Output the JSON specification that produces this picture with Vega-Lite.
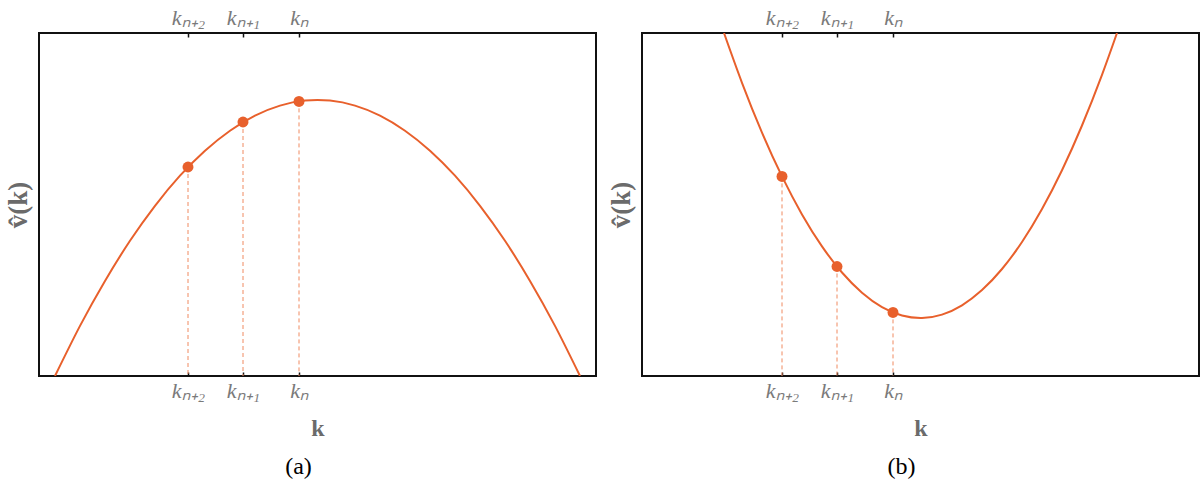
{
  "$schema": "https://vega.github.io/schema/vega-lite/v6.json",
  "padding": {"left": 3, "top": 5, "right": 2, "bottom": 10},
  "background": "white",
  "bounds": "flush",
  "spacing": 46,
  "datasets": {
    "curveA": [
      {"k": 16, "v": 0}, {"k": 41, "v": 50.1}, {"k": 66, "v": 95.1}, {"k": 91, "v": 135.2},
      {"k": 116, "v": 170.2}, {"k": 141, "v": 200.3}, {"k": 166, "v": 225.3}, {"k": 191, "v": 245.3},
      {"k": 216, "v": 260.4}, {"k": 241, "v": 270.4}, {"k": 266, "v": 275.4}, {"k": 291, "v": 275.4},
      {"k": 316, "v": 270.4}, {"k": 341, "v": 260.4}, {"k": 366, "v": 245.3}, {"k": 391, "v": 225.3},
      {"k": 416, "v": 200.3}, {"k": 441, "v": 170.2}, {"k": 466, "v": 135.2}, {"k": 491, "v": 95.1},
      {"k": 516, "v": 50.1}, {"k": 541, "v": 0}
    ],
    "ptsA": [
      {"k": 149, "v": 209, "name": "k_n+2"},
      {"k": 204, "v": 254, "name": "k_n+1"},
      {"k": 260, "v": 274.6, "name": "k_n"}
    ],
    "curveB": [
      {"k": 82, "v": 343}, {"k": 100, "v": 293.2}, {"k": 120, "v": 243.4}, {"k": 140, "v": 199.6},
      {"k": 160, "v": 161.6}, {"k": 180, "v": 129.6}, {"k": 200, "v": 103.5}, {"k": 220, "v": 83.3},
      {"k": 240, "v": 68.9}, {"k": 260, "v": 60.5}, {"k": 280, "v": 58.0}, {"k": 300, "v": 61.4},
      {"k": 320, "v": 70.7}, {"k": 340, "v": 85.9}, {"k": 360, "v": 107.0}, {"k": 380, "v": 134.0},
      {"k": 400, "v": 167.0}, {"k": 420, "v": 205.8}, {"k": 440, "v": 250.5}, {"k": 460, "v": 301.2},
      {"k": 475, "v": 343}
    ],
    "ptsB": [
      {"k": 140, "v": 199.6, "name": "k_n+2"},
      {"k": 195, "v": 109.5, "name": "k_n+1"},
      {"k": 251, "v": 63.6, "name": "k_n"}
    ]
  },
  "hconcat": [
    {
      "width": 557,
      "height": 343,
      "title": {"text": "(a)", "orient": "bottom", "anchor": "middle", "frame": "group", "offset": 15, "dx": -19, "fontSize": 24, "font": "Liberation Serif", "fontWeight": "normal", "color": "#000"},
      "resolve": {"axis": {"x": "independent"}},
      "layer": [
        {
          "data": {"name": "ptsA"},
          "mark": {"type": "rule", "strokeDash": [4, 3], "strokeWidth": 1, "color": "#f08a60"},
          "encoding": {
            "x": {"field": "k", "type": "quantitative", "scale": {"domain": [0, 557], "nice": false},
              "axis": {"orient": "bottom", "values": [149, 204, 260], "labelExpr": "datum.value < 170 ? 'kₙ₊₂' : datum.value < 230 ? 'kₙ₊₁' : 'kₙ'", "title": "k"}},
            "y": {"field": "v", "type": "quantitative", "scale": {"domain": [0, 343], "nice": false},
              "axis": {"title": "v̂(k)", "labels": false, "ticks": false, "titleFontSize": 27, "titlePadding": 7}},
            "y2": {"datum": 0}
          }
        },
        {
          "data": {"name": "curveA"},
          "mark": {"type": "line", "interpolate": "natural", "strokeWidth": 2, "color": "#e8602c", "clip": true},
          "encoding": {
            "x": {"field": "k", "type": "quantitative", "axis": null},
            "y": {"field": "v", "type": "quantitative", "axis": {"title": "v̂(k)", "labels": false, "ticks": false, "titleFontSize": 27, "titlePadding": 7}}
          }
        },
        {
          "data": {"name": "ptsA"},
          "mark": {"type": "circle", "size": 120, "opacity": 1, "color": "#e8602c"},
          "encoding": {
            "x": {"field": "k", "type": "quantitative",
              "axis": {"orient": "top", "values": [149, 204, 260], "labelExpr": "datum.value < 170 ? 'kₙ₊₂' : datum.value < 230 ? 'kₙ₊₁' : 'kₙ'", "title": null}},
            "y": {"field": "v", "type": "quantitative", "axis": {"title": "v̂(k)", "labels": false, "ticks": false, "titleFontSize": 27, "titlePadding": 7}}
          }
        }
      ]
    },
    {
      "width": 557,
      "height": 343,
      "title": {"text": "(b)", "orient": "bottom", "anchor": "middle", "frame": "group", "offset": 15, "dx": -19, "fontSize": 24, "font": "Liberation Serif", "fontWeight": "normal", "color": "#000"},
      "resolve": {"axis": {"x": "independent"}},
      "layer": [
        {
          "data": {"name": "ptsB"},
          "mark": {"type": "rule", "strokeDash": [4, 3], "strokeWidth": 1, "color": "#f08a60"},
          "encoding": {
            "x": {"field": "k", "type": "quantitative", "scale": {"domain": [0, 557], "nice": false},
              "axis": {"orient": "bottom", "values": [140, 195, 251], "labelExpr": "datum.value < 170 ? 'kₙ₊₂' : datum.value < 230 ? 'kₙ₊₁' : 'kₙ'", "title": "k"}},
            "y": {"field": "v", "type": "quantitative", "scale": {"domain": [0, 343], "nice": false},
              "axis": {"title": "v̂(k)", "labels": false, "ticks": false, "titleFontSize": 27, "titlePadding": 7}},
            "y2": {"datum": 0}
          }
        },
        {
          "data": {"name": "curveB"},
          "mark": {"type": "line", "interpolate": "natural", "strokeWidth": 2, "color": "#e8602c", "clip": true},
          "encoding": {
            "x": {"field": "k", "type": "quantitative", "axis": null},
            "y": {"field": "v", "type": "quantitative", "axis": {"title": "v̂(k)", "labels": false, "ticks": false, "titleFontSize": 27, "titlePadding": 7}}
          }
        },
        {
          "data": {"name": "ptsB"},
          "mark": {"type": "circle", "size": 120, "opacity": 1, "color": "#e8602c"},
          "encoding": {
            "x": {"field": "k", "type": "quantitative",
              "axis": {"orient": "top", "values": [140, 195, 251], "labelExpr": "datum.value < 170 ? 'kₙ₊₂' : datum.value < 230 ? 'kₙ₊₁' : 'kₙ'", "title": null}},
            "y": {"field": "v", "type": "quantitative", "axis": {"title": "v̂(k)", "labels": false, "ticks": false, "titleFontSize": 27, "titlePadding": 7}}
          }
        }
      ]
    }
  ],
  "config": {
    "view": {"stroke": "#111", "strokeWidth": 2},
    "axis": {
      "domain": false,
      "grid": false,
      "tickColor": "#111",
      "tickSize": -4,
      "tickWidth": 1.5,
      "labelFont": "Liberation Serif",
      "labelFontStyle": "italic",
      "labelFontSize": 22,
      "labelColor": "#7a7a7a",
      "labelPadding": 8,
      "titleFont": "Liberation Serif",
      "titleFontWeight": "bold",
      "titleFontSize": 24,
      "titleColor": "#6b6b6b",
      "titlePadding": 15
    }
  }
}
